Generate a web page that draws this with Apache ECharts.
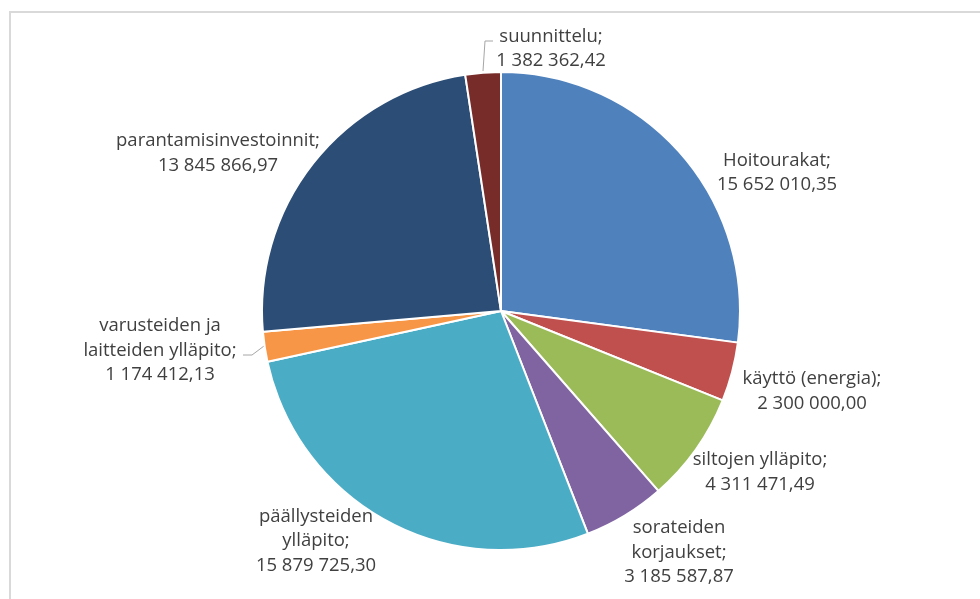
<!DOCTYPE html>
<html>
<head>
<meta charset="utf-8">
<script src="https://cdn.jsdelivr.net/npm/echarts@6/dist/echarts.min.js"></script>
<style>
html,body{margin:0;padding:0;background:#fff;}
#chart{width:980px;height:599px;}
</style>
</head>
<body>
<div id="chart"></div>
<script>
// Data
var categories = [
  "Hoitourakat",
  "käyttö (energia)",
  "siltojen ylläpito",
  "sorateiden\nkorjaukset",
  "päällysteiden\nylläpito",
  "varusteiden ja\nlaitteiden ylläpito",
  "parantamisinvestoinnit",
  "suunnittelu"
];
var values = [
  15652010.35,
  2300000.00,
  4311471.49,
  3185587.87,
  15879725.30,
  1174412.13,
  13845866.97,
  1382362.42
];
var colors = ["#4F81BD","#C0504D","#9BBB59","#8064A2","#4BACC6","#F79646","#2C4D75","#772C2A"];

// Label layout (label block centers) and leader lines
var labelPos = [
  [777, 172.5],
  [812, 391],
  [760, 472],
  [679, 552.5],
  [316, 541],
  [160, 350.5],
  [218, 153],
  [551, 48.5]
];
var leaderLines = {
  5: [[243, 355], [252, 355], [264, 346]],
  7: [[483, 71], [485, 41], [493, 41]]
};

function fmt(v) {
  var s = v.toFixed(2).split(".");
  var intPart = s[0].replace(/\B(?=(\d{3})+(?!\d))/g, " ");
  return intPart + "," + s[1];
}

var data = categories.map(function (c, i) {
  return {
    name: c,
    value: values[i],
    itemStyle: { color: colors[i] },
    labelLine: { show: !!leaderLines[i] }
  };
});

var chart = echarts.init(document.getElementById("chart"), null, { renderer: "canvas" });
chart.setOption({
  backgroundColor: "#ffffff",
  animation: false,
  graphic: [
    { type: "line", shape: { x1: 10, y1: 12, x2: 10, y2: 599 }, style: { stroke: "#d9d9d9", lineWidth: 2 }, z: -1 },
    { type: "line", shape: { x1: 9, y1: 12, x2: 980, y2: 12 }, style: { stroke: "#d9d9d9", lineWidth: 2 }, z: -1 }
  ],
  series: [{
    type: "pie",
    center: [501, 311],
    radius: 239,
    startAngle: 90,
    clockwise: true,
    avoidLabelOverlap: false,
    itemStyle: { borderColor: "#ffffff", borderWidth: 2 },
    label: {
      show: true,
      position: "outside",
      formatter: function (p) { return p.name + ";\n" + fmt(p.value); },
      fontFamily: "Open Sans",
      fontSize: 18.5,
      lineHeight: 24.5,
      color: "#404040",
      align: "center"
    },
    labelLine: {
      show: false,
      lineStyle: { color: "#a6a6a6", width: 1 },
      smooth: false
    },
    labelLayout: function (params) {
      var i = params.dataIndex;
      var r = {
        x: labelPos[i][0],
        y: labelPos[i][1],
        align: "center",
        verticalAlign: "middle",
        hideOverlap: false
      };
      if (leaderLines[i]) { r.labelLinePoints = leaderLines[i]; }
      return r;
    },
    emphasis: { disabled: true },
    data: data
  }]
});
</script>
</body>
</html>
